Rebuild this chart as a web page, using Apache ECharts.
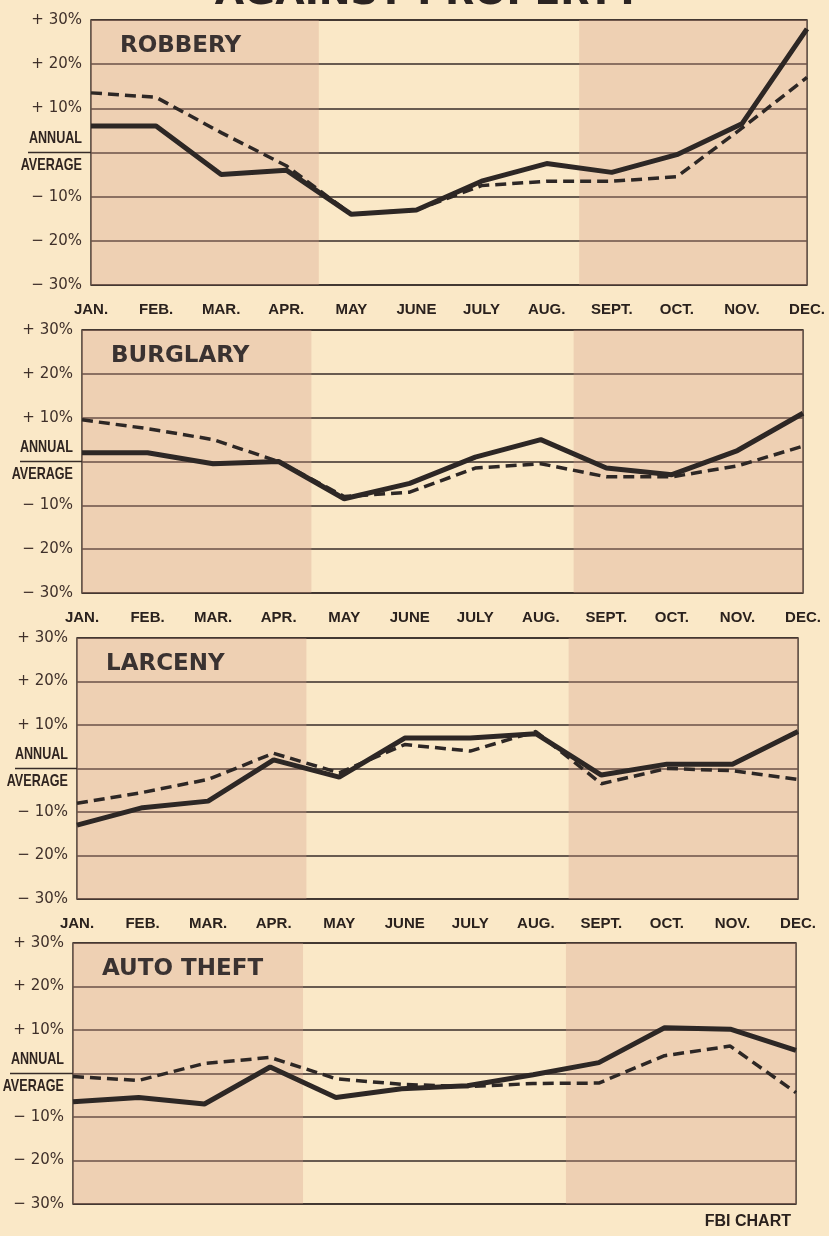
<!DOCTYPE html>
<html>
<head>
<meta charset="utf-8">
<script src="https://cdn.jsdelivr.net/npm/echarts@6/dist/echarts.min.js"></script>
<style>
  html, body { margin: 0; padding: 0; background: #fae8c7; }
  #chart { width: 829px; height: 1236px; }
</style>
</head>
<body>
<div id="chart"></div>
<script>
// month labels along the x axis
const months = ['JAN.', 'FEB.', 'MAR.', 'APR.', 'MAY', 'JUNE', 'JULY', 'AUG.', 'SEPT.', 'OCT.', 'NOV.', 'DEC.'];
// y tick labels (percent from annual average)
const yTicks = [-30, -20, -10, 0, 10, 20, 30];
const yTickLabels = ['− 30%', '− 20%', '− 10%', 'ANNUAL AVERAGE', '+ 10%', '+ 20%', '+ 30%'];

const panelNames = ['ROBBERY', 'BURGLARY', 'LARCENY', 'AUTO THEFT'];

// solid line
const robberySolid  = [6, 6, -5, -4, -14, -13, -6.5, -2.5, -4.5, -0.5, 6.5, 28];
const burglarySolid = [2, 2, -0.5, 0, -8.5, -5, 1, 5, -1.5, -3, 2.5, 11];
const larcenySolid  = [-13, -9, -7.5, 2, -2, 7, 7, 8, -1.5, 1, 1, 8.5];
const autoSolid     = [-6.5, -5.5, -7, 1.5, -5.5, -3.5, -2.8, -0.3, 2.5, 10.5, 10.2, 5.3];
// dashed line
const robberyDashed  = [13.5, 12.5, 4.5, -3, -14, -13, -7.5, -6.5, -6.5, -5.5, 5.5, 17];
const burglaryDashed = [9.5, 7.5, 5, 0, -8, -7, -1.5, -0.5, -3.5, -3.5, -1, 3.5];
const larcenyDashed  = [-8, -5.5, -2.5, 3.5, -1, 5.5, 4, 8.5, -3.5, 0, -0.5, -2.5];
const autoDashed     = [-0.7, -1.6, 2.3, 3.7, -1.2, -2.5, -3, -2.3, -2.2, 4.1, 6.3, -4.4];

const solidSets = [robberySolid, burglarySolid, larcenySolid, autoSolid];
const dashedSets = [robberyDashed, burglaryDashed, larcenyDashed, autoDashed];

// shaded seasons (month index ranges)
const shadeRanges = [[0, 3.5], [7.5, 11]];

const layout = [
  { left: 91, right: 22, top: 20, height: 265, months: true, ext: 28 },
  { left: 82, right: 26, top: 330, height: 263, months: true, ext: 20 },
  { left: 77, right: 31, top: 638, height: 261, months: true, ext: 15 },
  { left: 73, right: 33, top: 943, height: 261, months: false, ext: 10 }
];

const ink = '#2d2725';
const gridInk = '#372c28';

const chart = echarts.init(document.getElementById('chart'));

const grid = [], xAxis = [], yAxis = [], series = [], title = [];
layout.forEach((p, i) => {
  grid.push({
    left: p.left, right: p.right, top: p.top, height: p.height,
    outerBoundsMode: 'none', containLabel: false,
    show: true, borderColor: gridInk, borderWidth: 1.5, backgroundColor: 'transparent'
  });
  xAxis.push({
    type: 'value', gridIndex: i, min: 0, max: 11, interval: 1,
    axisLine: { show: false }, axisTick: { show: false }, splitLine: { show: false },
    axisLabel: {
      show: p.months, margin: 17, color: '#2a211d',
      fontFamily: '"Liberation Sans", Arial, sans-serif', fontWeight: 'bold', fontSize: 15,
      formatter: v => months[v]
    }
  });
  yAxis.push({
    type: 'value', gridIndex: i, min: -30, max: 30, interval: 10,
    axisLine: { show: false }, axisTick: { show: false },
    splitLine: { lineStyle: { color: gridInk, width: 1.6 } },
    axisLabel: {
      margin: 9, color: '#3f302a', fontFamily: '"DejaVu Sans", sans-serif', fontSize: 15,
      // the zero label is drawn separately in a condensed style
      formatter: v => (v === 0 ? '' : yTickLabels[yTicks.indexOf(v)])
    }
  });
  series.push({
    type: 'line', xAxisIndex: i, yAxisIndex: i, symbol: 'none', z: 3,
    data: dashedSets[i].map((v, k) => [k, v]),
    lineStyle: { color: ink, width: 3.5, type: [11, 6] },
    markArea: {
      silent: true,
      itemStyle: { color: 'rgba(214, 160, 138, 0.32)' },
      data: shadeRanges.map(r => [{ xAxis: r[0] }, { xAxis: r[1] }])
    }
  });
  series.push({
    type: 'line', xAxisIndex: i, yAxisIndex: i, symbol: 'none', z: 4,
    data: solidSets[i].map((v, k) => [k, v]),
    lineStyle: { color: ink, width: 5 }
  });
  title.push({
    text: panelNames[i], left: p.left + 24, top: p.top + 10,
    textStyle: { fontFamily: '"DejaVu Sans", sans-serif', fontWeight: 'bold', fontSize: 23, color: '#3a3231' }
  });
});

chart.setOption({
  backgroundColor: '#fae8c7',
  animation: false,
  title, grid, xAxis, yAxis, series
});

// zero line runs out under the ANNUAL / AVERAGE label
const zeroParts = yTickLabels[yTicks.indexOf(0)].split(' ');
const graphics = [];
layout.forEach((p, i) => {
  const y = chart.convertToPixel({ yAxisIndex: i }, 0);
  graphics.push({
    type: 'line', silent: true,
    shape: { x1: p.ext, y1: y, x2: p.left, y2: y },
    style: { stroke: gridInk, lineWidth: 1.6 }
  });
  zeroParts.forEach((word, k) => {
    graphics.push({
      type: 'text', silent: true,
      x: p.left - 9, y: y + (k === 0 ? -14 : 13), scaleX: 0.74,
      style: {
        text: word, font: 'bold 17px "Liberation Sans", Arial, sans-serif', fill: '#2f2420',
        align: 'right', verticalAlign: 'middle'
      }
    });
  });
});
graphics.push({
  type: 'text', silent: true, x: 428, y: -6,
  style: {
    text: 'AGAINST PROPERTY', font: 'bold 38px "DejaVu Sans", sans-serif', fill: '#2b2422',
    align: 'center', verticalAlign: 'middle'
  }
});
graphics.push({
  type: 'text', silent: true, x: 791, y: 1222,
  style: {
    text: 'FBI CHART', font: 'bold 16px "Liberation Sans", Arial, sans-serif', fill: '#2a211d',
    align: 'right', verticalAlign: 'middle'
  }
});
chart.setOption({ graphic: graphics });

window.addEventListener('resize', () => chart.resize());
</script>
</body>
</html>
